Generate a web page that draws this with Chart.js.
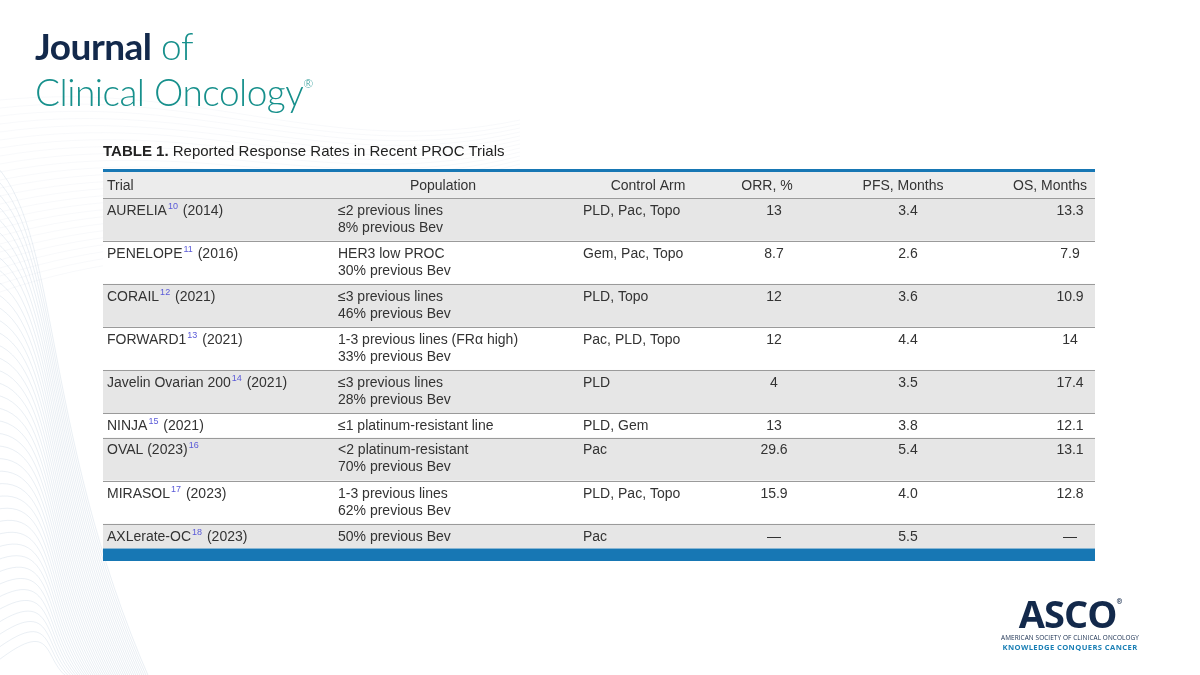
<!DOCTYPE html>
<html>
<head>
<meta charset="utf-8">
<script src="https://cdn.jsdelivr.net/npm/chart.js@4"></script>
<style>
  body { margin: 0; width: 1200px; height: 675px; background: #fff; overflow: hidden; font-family: "Liberation Sans", Arial, sans-serif; position: relative; }
  .logo { position: absolute; left: 35px; top: 27px; color: #17908c; font-family: Lato, "Open Sans", sans-serif; font-weight: 300; font-size: 37px; line-height: 38px; letter-spacing: -0.5px; }
  .logo b { color: #13294b; font-weight: 700; }
  .logo sup { font-size: 12px; vertical-align: 18px; }
  .title { position: absolute; left: 103px; top: 142px; font-size: 15px; color: #222; }
  .asco { position: absolute; left: 985px; top: 584px; width: 170px; text-align: center; color: #13294b; font-family: "Open Sans", sans-serif; }
  .asco .big { font-size: 38px; font-weight: 700; line-height: 36px; letter-spacing: -1px; }
  .asco .s1 { font-size: 6.4px; letter-spacing: 0.1px; margin-top: 2px; }
  .asco .s2 { font-size: 7.6px; color: #1a7fb5; font-weight: 700; letter-spacing: 0.4px; }
  #wrap { position: absolute; left: 103px; top: 168px; width: 992px; height: 393px; }
  #waves { position: absolute; left: 0; top: 0; }
</style>
</head>
<body>
<canvas id="waves" width="1200" height="675"></canvas>
<div class="logo"><b>Journal</b> of<br>Clinical Oncology<sup>®</sup></div>
<div class="title"><b>TABLE 1.</b> Reported Response Rates in Recent PROC Trials</div>
<div id="wrap"><canvas id="chartTabla"></canvas></div>
<div class="asco"><div class="big">ASCO<sup style="font-size:7px;vertical-align:24px">®</sup></div><div class="s1">AMERICAN SOCIETY OF CLINICAL ONCOLOGY</div><div class="s2">KNOWLEDGE CONQUERS CANCER</div></div>
<script>
const headers = ['Trial', 'Population', 'Control Arm', 'ORR, %', 'PFS, Months', 'OS, Months'];
const trials = ['AURELIA^10^ (2014)', 'PENELOPE^11^ (2016)', 'CORAIL^12^ (2021)', 'FORWARD1^13^ (2021)',
    'Javelin Ovarian 200^14^ (2021)', 'NINJA^15^ (2021)', 'OVAL (2023)^16^', 'MIRASOL^17^ (2023)', 'AXLerate-OC^18^ (2023)'];
const population = [
    ['≤2 previous lines', '8% previous Bev'],
    ['HER3 low PROC', '30% previous Bev'],
    ['≤3 previous lines', '46% previous Bev'],
    ['1-3 previous lines (FRα high)', '33% previous Bev'],
    ['≤3 previous lines', '28% previous Bev'],
    ['≤1 platinum-resistant line'],
    ['<2 platinum-resistant', '70% previous Bev'],
    ['1-3 previous lines', '62% previous Bev'],
    ['50% previous Bev']
];
const controlArm = ['PLD, Pac, Topo', 'Gem, Pac, Topo', 'PLD, Topo', 'Pac, PLD, Topo', 'PLD', 'PLD, Gem', 'Pac', 'PLD, Pac, Topo', 'Pac'];
const orr = ['13', '8.7', '12', '12', '4', '13', '29.6', '15.9', '—'];
const pfs = ['3.4', '2.6', '3.6', '4.4', '3.5', '3.8', '5.4', '4.0', '5.5'];
const os = ['13.3', '7.9', '10.9', '14', '17.4', '12.1', '13.1', '12.8', '—'];

// background waves
(function () {
    const c = document.getElementById('waves').getContext('2d');
    c.strokeStyle = 'rgba(120,150,185,0.22)';
    c.lineWidth = 0.7;
    for (let i = 0; i < 40; i++) {
        c.beginPath();
        c.moveTo(-10, 160 + i * 13);
        c.bezierCurveTo(60, 220 + i * 10, 40, 430 + i * 6, 150 - i * 2, 680);
        c.stroke();
    }
    c.strokeStyle = 'rgba(150,175,200,0.10)';
    for (let i = 0; i < 25; i++) {
        c.beginPath();
        c.moveTo(0, 100 + i * 8);
        c.bezierCurveTo(200, 80 + i * 6, 330, 160 + i * 5, 520, 120 + i * 4);
        c.stroke();
    }
})();

// row heights in text-line units
const headerH = 1.2;
const rowH = population.map(p => p.length === 1 ? 1.15 : 2);
const bounds = [0, headerH];
rowH.forEach(h => bounds.push(bounds[bounds.length - 1] + h));
const total = bounds[bounds.length - 1];
const bottomBar = 0.58;

function drawRich(ctx, str, x, y) {
    const parts = str.split('^');
    let cx = x;
    parts.forEach((p, i) => {
        if (i % 2 === 1) {
            ctx.font = '9px "Liberation Sans", Arial';
            ctx.fillStyle = '#5a5ad8';
            ctx.fillText(p, cx + 1, y - 6);
            cx += ctx.measureText(p).width + 2;
        } else {
            ctx.font = '14px "Liberation Sans", Arial';
            ctx.fillStyle = '#333';
            ctx.fillText(p, cx, y);
            cx += ctx.measureText(p).width;
        }
    });
}

const tablePlugin = {
    id: 'tabla',
    beforeDatasetsDraw(chart) {
        const { ctx, scales: { x, y } } = chart;
        const px = v => x.getPixelForValue(v);
        const py = v => y.getPixelForValue(v);
        ctx.save();
        ctx.fillStyle = '#ececec';
        ctx.fillRect(px(0), py(0), px(992) - px(0), py(headerH) - py(0));
        rowH.forEach((h, i) => {
            ctx.fillStyle = i % 2 === 0 ? '#e6e6e6' : '#ffffff';
            ctx.fillRect(px(0), py(bounds[i + 1]), px(992) - px(0), py(bounds[i + 2]) - py(bounds[i + 1]));
        });
        ctx.strokeStyle = '#9a9a9a';
        ctx.lineWidth = 1;
        bounds.slice(1, -1).forEach(b => {
            ctx.beginPath();
            ctx.moveTo(px(0), Math.round(py(b)) + 0.5);
            ctx.lineTo(px(992), Math.round(py(b)) + 0.5);
            ctx.stroke();
        });
        ctx.fillStyle = '#1777b4';
        ctx.fillRect(px(0), py(0) - 3, px(992) - px(0), 3);
        ctx.fillRect(px(0), py(total), px(992) - px(0), py(total + bottomBar) - py(total));

        ctx.textBaseline = 'alphabetic';
        const lineH = py(1) - py(0);
        const hy = py(headerH / 2) + 5;
        ctx.font = '14px "Liberation Sans", Arial';
        ctx.fillStyle = '#333';
        ctx.textAlign = 'left';
        ctx.fillText(headers[0], px(4), hy);
        ctx.textAlign = 'center';
        ctx.fillText(headers[1], px(340), hy);
        ctx.fillText(headers[2], px(545), hy);
        ctx.fillText(headers[3], px(664), hy);
        ctx.fillText(headers[4], px(800), hy);
        ctx.textAlign = 'right';
        ctx.fillText(headers[5], px(984), hy);

        trials.forEach((t, i) => {
            const top = py(bounds[i + 1]);
            const y1 = top + lineH * 0.5 + 6;
            ctx.textAlign = 'left';
            drawRich(ctx, t, px(4), y1);
            ctx.font = '14px "Liberation Sans", Arial';
            ctx.fillStyle = '#333';
            population[i].forEach((l, k) => ctx.fillText(l, px(235), y1 + k * 17));
            ctx.fillText(controlArm[i], px(480), y1);
            ctx.textAlign = 'center';
            ctx.fillText(orr[i], px(671), y1);
            ctx.fillText(pfs[i], px(805), y1);
            ctx.fillText(os[i], px(967), y1);
        });
        ctx.restore();
    }
};

new Chart(document.getElementById('chartTabla'), {
    type: 'scatter',
    data: { datasets: [{ data: [] }] },
    options: {
        responsive: true,
        maintainAspectRatio: false,
        animation: false,
        layout: { padding: { top: 4, bottom: 0, left: 0, right: 0 } },
        plugins: { legend: { display: false }, tooltip: { enabled: false } },
        scales: {
            x: { type: 'linear', min: 0, max: 992, display: false },
            y: { type: 'linear', min: 0, max: total + bottomBar, reverse: true, display: false }
        }
    },
    plugins: [tablePlugin]
});
</script>
</body>
</html>
